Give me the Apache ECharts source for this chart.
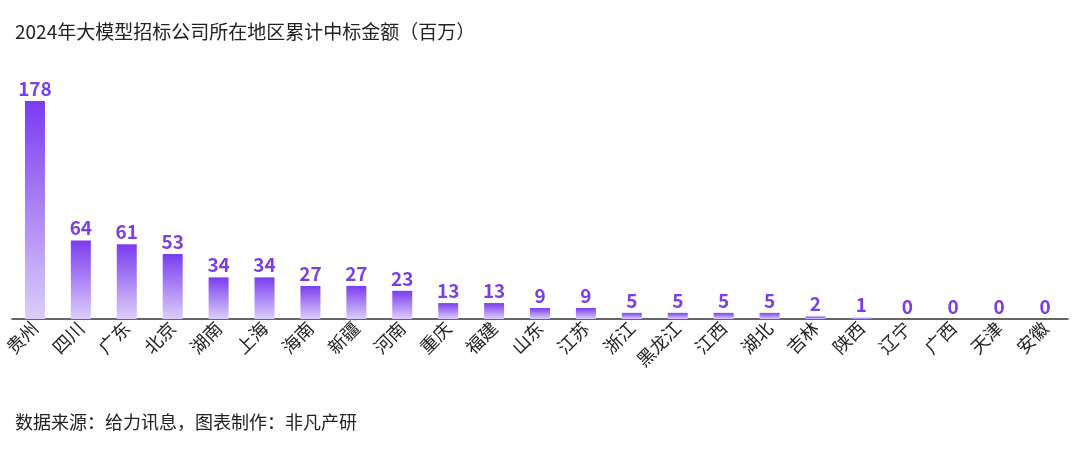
<!DOCTYPE html><html><head><meta charset="utf-8"><script src="https://cdn.jsdelivr.net/npm/echarts@6/dist/echarts.min.js"></script></head><body style="margin:0"><div id="c" style="width:1080px;height:453px"></div><script>
const categories=["贵州","四川","广东","北京","湖南","上海","海南","新疆","河南","重庆","福建","山东","江苏","浙江","黑龙江","江西","湖北","吉林","陕西","辽宁","广西","天津","安徽"];
const values=[178,64,61,53,34,34,27,27,23,13,13,9,9,5,5,5,5,2,1,0,0,0,0];
const F='"Noto Sans CJK SC","Noto Sans",sans-serif';
const ch=echarts.init(document.getElementById('c'));
ch.setOption({
 title:[{text:'2024年大模型招标公司所在地区累计中标金额（百万）',left:10,top:17,textStyle:{fontSize:19,fontWeight:'normal',color:'#222',fontFamily:F}},
  {text:'数据来源：给力讯息，图表制作：非凡产研',left:10,top:408,textStyle:{fontSize:18,fontWeight:'normal',color:'#222',fontFamily:F}}],
 grid:{left:12,right:12,top:101,bottom:134},
 xAxis:{type:'category',data:categories,axisLine:{lineStyle:{color:'#333',width:1.5}},axisTick:{show:false},
  axisLabel:{rotate:45,fontSize:18,color:'#222',fontFamily:F,interval:0,margin:6}},
 yAxis:{type:'value',min:0,max:178,show:false,splitLine:{show:false}},
 series:[{type:'bar',data:values,barWidth:20,
  itemStyle:{color:new echarts.graphic.LinearGradient(0,0,0,1,[{offset:0,color:'#7a3cf0'},{offset:1,color:'#dccdfa'}])},
  label:{show:true,position:'top',fontSize:19,fontWeight:'bold',color:'#7b3fe4',fontFamily:F,distance:3}}]
});
</script></body></html>
